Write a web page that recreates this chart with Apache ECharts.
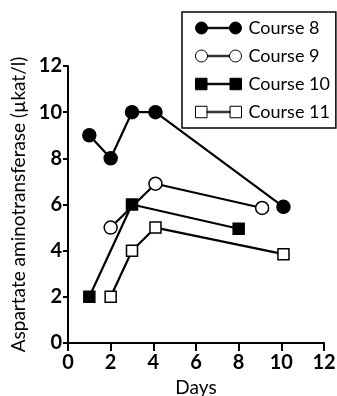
<!DOCTYPE html>
<html><head><meta charset="utf-8">
<script src="https://cdn.jsdelivr.net/npm/echarts@6/dist/echarts.min.js"></script>
<style>html,body{margin:0;padding:0;background:#fff}#c{width:337px;height:396px}</style>
</head><body><div id="c"></div>
<script>
const xTicks = [0, 2, 4, 6, 8, 10, 12];
const yTicks = [0, 2, 4, 6, 8, 10, 12];
const course8 = [[1, 9], [2, 8], [3, 10], [4.1, 10], [10.1, 5.9]];
const course9 = [[2, 5], [4.1, 6.9], [9.1, 5.85]];
const course10 = [[1, 2], [3, 6], [8, 4.95]];
const course11 = [[2, 2], [3, 4], [4.1, 5], [10.1, 3.85]];
const names = ['Course 8', 'Course 9', 'Course 10', 'Course 11'];

const FONT = 'Lato';
const circIcon = 'path://M0,7 a6,6 0 1,0 12,0 a6,6 0 1,0 -12,0 Z M12,6.3 L34,6.3 L34,7.7 L12,7.7 Z M34,7 a6,6 0 1,0 12,0 a6,6 0 1,0 -12,0 Z';
const sqIcon = 'path://M1,1.5 L12,1.5 L12,12.5 L1,12.5 Z M12,6.3 L34,6.3 L34,7.7 L12,7.7 Z M34,1.5 L45,1.5 L45,12.5 L34,12.5 Z';

function ser(name, data, symbol, fill, size) {
  return {
    name, type: 'line', data, symbol, symbolSize: size,
    lineStyle: { color: '#000', width: 2.2 },
    itemStyle: { color: fill, borderColor: '#000', borderWidth: 1.5 },
    z: 3, animation: false
  };
}

const chart = echarts.init(document.getElementById('c'));
chart.setOption({
  animation: false,
  grid: { left: 68, right: 13, top: 66, bottom: 53, containLabel: false, outerBoundsMode: 'none' },
  legend: {
    orient: 'vertical', left: 182, top: 12,
    itemWidth: 46, itemHeight: 14, itemGap: 10,
    padding: [7, 6, 7, 13],
    borderColor: '#000', borderWidth: 1.5,
    textStyle: { fontFamily: FONT, fontSize: 18, color: '#000', padding: [0, 0, 0, 2] },
    data: [
      { name: names[0], icon: circIcon, itemStyle: { color: '#000', borderColor: '#000', borderWidth: 1 } },
      { name: names[1], icon: circIcon, itemStyle: { color: '#fff', borderColor: '#000', borderWidth: 1 } },
      { name: names[2], icon: sqIcon, itemStyle: { color: '#000', borderColor: '#000', borderWidth: 1 } },
      { name: names[3], icon: sqIcon, itemStyle: { color: '#fff', borderColor: '#000', borderWidth: 1 } }
    ]
  },
  xAxis: {
    type: 'value', min: xTicks[0], max: xTicks[xTicks.length - 1], interval: 2,
    name: 'Days', nameLocation: 'middle', nameGap: 30,
    nameTextStyle: { fontFamily: FONT, fontSize: 19, color: '#000' },
    axisLine: { lineStyle: { color: '#000', width: 2 } },
    axisTick: { show: true, length: 8, lineStyle: { color: '#000', width: 2 } },
    axisLabel: { fontFamily: FONT, fontSize: 20, fontWeight: 'bold', color: '#000', margin: 10 },
    splitLine: { show: false }
  },
  yAxis: {
    type: 'value', min: yTicks[0], max: yTicks[yTicks.length - 1], interval: 2,
    name: 'Aspartate aminotransferase (µkat/l)', nameLocation: 'middle', nameGap: 40,
    nameTextStyle: { fontFamily: FONT, fontSize: 19, color: '#000' },
    axisLine: { show: true, lineStyle: { color: '#000', width: 2 } },
    axisTick: { show: true, length: 5, lineStyle: { color: '#000', width: 2 } },
    axisLabel: { fontFamily: FONT, fontSize: 20, fontWeight: 'bold', color: '#000', margin: 6 },
    splitLine: { show: false }
  },
  series: [
    ser(names[0], course8, 'circle', '#000', 13),
    ser(names[1], course9, 'circle', '#fff', 13),
    ser(names[2], course10, 'rect', '#000', 11),
    ser(names[3], course11, 'rect', '#fff', 11)
  ]
});
</script></body></html>
